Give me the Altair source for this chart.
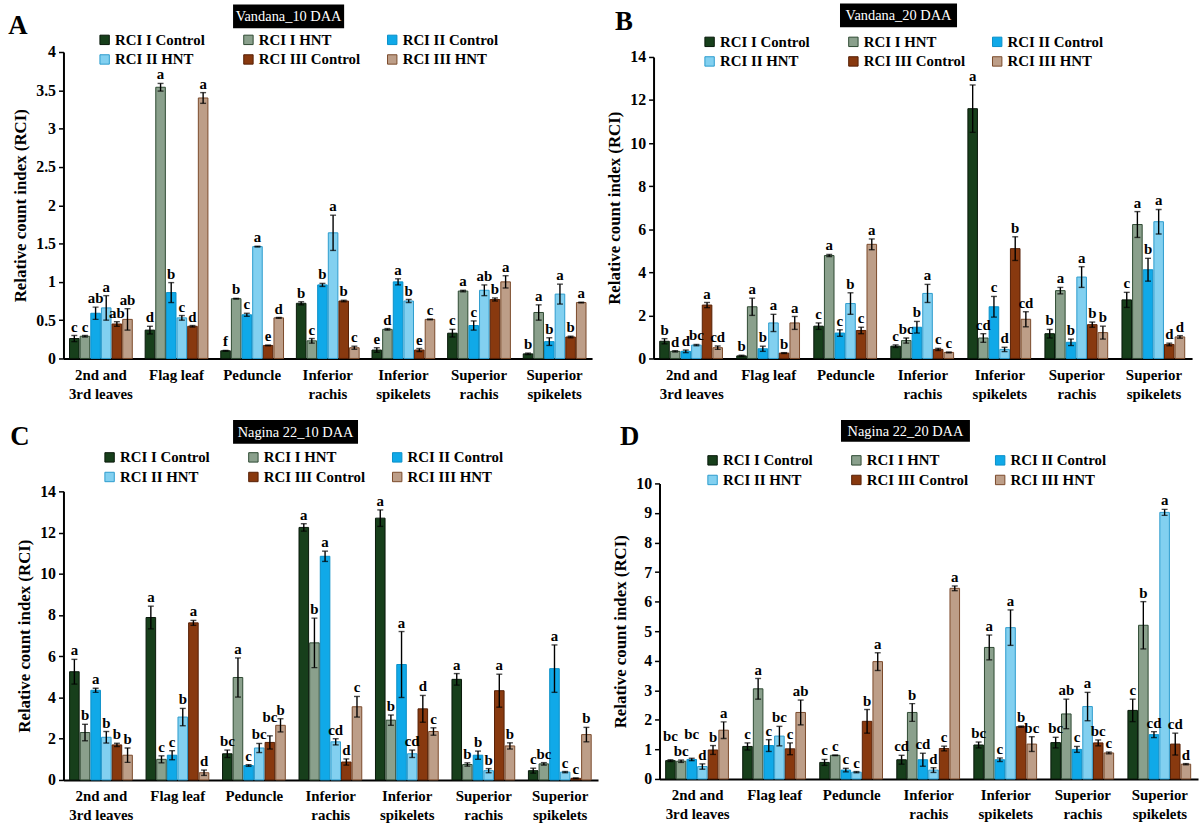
import altair as alt
import pandas as pd

FONT = "Liberation Serif"

CATEGORIES = ["2nd and\n3rd leaves", "Flag leaf", "Peduncle", "Inferior\nrachis",
              "Inferior\nspikelets", "Superior\nrachis", "Superior\nspikelets"]
SERIES = ["RCI I Control", "RCI I HNT", "RCI II Control",
          "RCI II HNT", "RCI III Control", "RCI III HNT"]
FILLS = ["#173f1b", "#8aa08c", "#10a9e8", "#82d0f0", "#88390f", "#bd9e88"]
EDGES = ["#08180a", "#2f4a33", "#0a90c8", "#2d9ccd", "#561f05", "#7a4a2b"]

# Vandana, 10 DAA  (rows = tissues, columns = series)
A_MEAN = [[0.26, 0.29, 0.59, 0.66, 0.45, 0.51],
          [0.37, 3.54, 0.86, 0.53, 0.42, 3.40],
          [0.10, 0.78, 0.57, 1.46, 0.17, 0.53],
          [0.72, 0.23, 0.96, 1.64, 0.75, 0.14],
          [0.11, 0.38, 1.00, 0.75, 0.11, 0.51],
          [0.33, 0.88, 0.43, 0.89, 0.77, 1.00],
          [0.06, 0.60, 0.22, 0.84, 0.28, 0.73]]
A_ERR = [[0.04, 0.01, 0.08, 0.16, 0.03, 0.14],
         [0.05, 0.05, 0.13, 0.03, 0.01, 0.07],
         [0.005, 0.005, 0.02, 0.005, 0.005, 0.005],
         [0.02, 0.03, 0.02, 0.23, 0.01, 0.02],
         [0.03, 0.01, 0.04, 0.02, 0.02, 0.005],
         [0.05, 0.01, 0.06, 0.07, 0.02, 0.08],
         [0.01, 0.10, 0.05, 0.13, 0.01, 0.005]]
A_SIG = [["c", "c", "ab", "a", "ab", "ab"],
         ["d", "a", "b", "c", "d", "a"],
         ["f", "b", "c", "a", "e", "d"],
         ["b", "c", "b", "a", "b", "c"],
         ["e", "d", "a", "b", "e", "c"],
         ["c", "a", "c", "ab", "b", "a"],
         ["b", "a", "b", "a", "b", "a"]]

# Vandana, 20 DAA
B_MEAN = [[0.80, 0.33, 0.33, 0.62, 2.48, 0.50],
          [0.12, 2.40, 0.45, 1.65, 0.25, 1.65],
          [1.50, 4.78, 1.18, 2.55, 1.30, 5.30],
          [0.57, 0.83, 1.45, 3.02, 0.42, 0.28],
          [11.60, 0.95, 2.40, 0.42, 5.10, 1.82],
          [1.15, 3.15, 0.75, 3.78, 1.57, 1.20],
          [2.72, 6.22, 4.12, 6.35, 0.65, 1.00]]
B_ERR = [[0.12, 0.03, 0.06, 0.03, 0.12, 0.08],
         [0.03, 0.40, 0.12, 0.40, 0.02, 0.30],
         [0.15, 0.05, 0.15, 0.50, 0.15, 0.25],
         [0.06, 0.12, 0.27, 0.42, 0.05, 0.02],
         [1.10, 0.20, 0.48, 0.10, 0.55, 0.35],
         [0.20, 0.15, 0.15, 0.48, 0.12, 0.30],
         [0.35, 0.60, 0.53, 0.57, 0.06, 0.06]]
B_SIG = [["b", "d", "d", "bc", "a", "cd"],
         ["b", "a", "b", "a", "b", "a"],
         ["c", "a", "c", "b", "c", "a"],
         ["c", "bc", "b", "a", "c", "c"],
         ["a", "cd", "c", "d", "b", "cd"],
         ["b", "a", "b", "a", "b", "b"],
         ["c", "a", "b", "a", "d", "d"]]

# Nagina 22, 10 DAA
C_MEAN = [[5.25, 2.30, 4.35, 2.07, 1.70, 1.20],
          [7.88, 1.00, 1.20, 3.05, 7.62, 0.35],
          [1.27, 4.97, 0.70, 1.55, 1.82, 2.65],
          [12.25, 6.65, 10.85, 1.85, 0.87, 3.55],
          [12.70, 2.90, 5.60, 1.27, 3.45, 2.35],
          [4.88, 0.75, 1.20, 0.45, 4.33, 1.65],
          [0.45, 0.78, 5.40, 0.38, 0.08, 2.20]]
C_ERR = [[0.60, 0.40, 0.10, 0.28, 0.08, 0.35],
         [0.55, 0.17, 0.22, 0.42, 0.12, 0.13],
         [0.18, 0.95, 0.04, 0.22, 0.32, 0.32],
         [0.18, 1.20, 0.25, 0.15, 0.15, 0.50],
         [0.40, 0.25, 1.60, 0.18, 0.65, 0.18],
         [0.28, 0.08, 0.20, 0.10, 0.80, 0.15],
         [0.12, 0.06, 1.15, 0.03, 0.02, 0.35]]
C_SIG = [["a", "b", "a", "b", "b", "b"],
         ["a", "c", "c", "b", "a", "d"],
         ["bc", "a", "c", "bc", "bc", "b"],
         ["a", "b", "a", "cd", "d", "c"],
         ["a", "b", "a", "cd", "d", "c"],
         ["a", "b", "b", "b", "a", "b"],
         ["c", "bc", "a", "c", "c", "b"]]

# Nagina 22, 20 DAA
D_MEAN = [[0.62, 0.60, 0.66, 0.42, 0.98, 1.65],
          [1.10, 3.05, 1.13, 1.45, 1.02, 2.25],
          [0.56, 0.80, 0.30, 0.23, 1.95, 3.97],
          [0.65, 2.25, 0.65, 0.30, 1.03, 6.45],
          [1.15, 4.45, 0.65, 5.12, 1.77, 1.18],
          [1.23, 2.20, 1.00, 2.45, 1.22, 0.88],
          [2.32, 5.20, 1.50, 9.02, 1.18, 0.50]]
D_ERR = [[0.03, 0.04, 0.04, 0.09, 0.15, 0.28],
         [0.12, 0.35, 0.20, 0.33, 0.20, 0.42],
         [0.10, 0.01, 0.06, 0.02, 0.40, 0.30],
         [0.15, 0.30, 0.22, 0.08, 0.08, 0.08],
         [0.10, 0.42, 0.06, 0.60, 0.02, 0.25],
         [0.18, 0.50, 0.10, 0.48, 0.10, 0.03],
         [0.38, 0.80, 0.10, 0.10, 0.37, 0.02]]
D_SIG = [["bc", "bc", "bc", "d", "b", "a"],
         ["c", "a", "c", "bc", "c", "ab"],
         ["c", "c", "c", "c", "b", "a"],
         ["cd", "b", "cd", "d", "c", "a"],
         ["bc", "a", "c", "a", "b", "bc"],
         ["bc", "ab", "c", "a", "bc", "c"],
         ["c", "b", "cd", "a", "cd", "d"]]

# extra lift (px) for letters that would collide with a neighbour
LETTER_LIFT = {("C", 2, 4): 10, ("D", 0, 0): 15, ("D", 0, 2): 15}


def frame(key, means, errs, sigs):
    rows = []
    for i, cat in enumerate(CATEGORIES):
        for j, s in enumerate(SERIES):
            m, e = means[i][j], errs[i][j]
            rows.append({"category": cat, "series": s, "mean": m,
                         "lo": max(0.0, m - e), "hi": m + e, "sig": sigs[i][j],
                         "lift": LETTER_LIFT.get((key, i, j), 0)})
    return pd.DataFrame(rows)


def panel(df, title, letter, ymax, step, width, height, top, box, letter_xy, legend_xy):
    ticks = [round(k * step, 3) for k in range(int(round(ymax / step)) + 1)]
    # letter anchor: top of the error bar, raised by the pixel lift converted to data units
    df = df.assign(label_y=df["hi"] + df["lift"] * ymax / (height - top))
    x = alt.X("category:N", sort=CATEGORIES, title=None,
              scale=alt.Scale(paddingInner=0.17, paddingOuter=0.08),
              axis=alt.Axis(labelExpr="split(datum.label, '\\n')", labelAngle=0,
                            ticks=False, domainColor="black", domainWidth=2,
                            labelFont=FONT, labelFontSize=15, labelFontWeight="bold",
                            labelColor="black", labelPadding=9, labelLineHeight=19))
    xo = alt.XOffset("series:N", sort=SERIES, scale=alt.Scale(paddingInner=0.1))

    def ych(field):
        return alt.Y(f"{field}:Q",
                     scale=alt.Scale(domain=[0, ymax], range=[height, top], nice=False),
                     title="Relative count index (RCI)",
                     axis=alt.Axis(values=ticks, format=".1~f", grid=False,
                                   domainColor="black", domainWidth=2,
                                   tickColor="black", tickWidth=1.5, tickSize=5,
                                   labelFont=FONT, labelFontSize=16, labelFontWeight="bold",
                                   labelColor="black", labelPadding=3,
                                   titleFont=FONT, titleFontSize=17, titleFontWeight="bold",
                                   titleColor="black", titlePadding=6))

    legend = alt.Legend(title=None, orient="none", legendX=legend_xy[0], legendY=legend_xy[1],
                        direction="horizontal", columns=3, symbolType="square", symbolSize=90,
                        symbolStrokeColor="#222222", symbolStrokeWidth=1,
                        labelFont=FONT, labelFontSize=15, labelFontWeight="bold",
                        labelColor="black", labelOffset=3, columnPadding=24,
                        rowPadding=4, gridAlign="all", padding=0)

    base = alt.Chart(df)
    bars = base.mark_bar(strokeWidth=1).encode(
        x=x, xOffset=xo, y=ych("mean"),
        color=alt.Color("series:N", sort=SERIES,
                        scale=alt.Scale(domain=SERIES, range=FILLS), legend=legend),
        stroke=alt.Stroke("series:N", scale=alt.Scale(domain=SERIES, range=EDGES),
                          legend=None))
    whisk = base.mark_rule(color="black", strokeWidth=1.4).encode(
        x=x, xOffset=xo, y=ych("lo"), y2="hi:Q")
    cap_hi = base.mark_tick(color="black", thickness=1.4, size=6).encode(
        x=x, xOffset=xo, y=ych("hi"))
    cap_lo = base.mark_tick(color="black", thickness=1.4, size=6).encode(
        x=x, xOffset=xo, y=ych("lo"))
    letters = base.mark_text(baseline="bottom", dy=-1, font=FONT, fontSize=15,
                             fontWeight="bold", color="black").encode(
        x=x, xOffset=xo, y=ych("label_y"), text="sig:N")

    label_df = pd.DataFrame({"title": [title], "letter": [letter]})
    head = alt.Chart(label_df)
    box_rect = head.mark_rect(color="black").encode(
        x=alt.value(box[0]), x2=alt.value(box[1]), y=alt.value(box[2]), y2=alt.value(box[3]))
    box_text = head.mark_text(color="white", font=FONT, fontSize=14.5, baseline="middle").encode(
        text="title:N", x=alt.value((box[0] + box[1]) / 2), y=alt.value((box[2] + box[3]) / 2 + 1))
    tag = head.mark_text(color="black", font=FONT, fontSize=27, fontWeight="bold",
                         baseline="middle").encode(
        text="letter:N", x=alt.value(letter_xy[0]), y=alt.value(letter_xy[1]))

    return alt.layer(bars, whisk, cap_hi, cap_lo, letters, box_rect, box_text, tag).properties(
        width=width, height=height)


pa = panel(frame("A", A_MEAN, A_ERR, A_SIG), "Vandana_10 DAA", "A", 4, 0.5, 533, 309, 0,
           (171, 283, -48, -24), (-46, -26), (34, -20))
pb = panel(frame("B", B_MEAN, B_ERR, B_SIG), "Vandana_20 DAA", "B", 14, 2, 543, 309, 5,
           (188, 306, -49, -25), (-30, -30), (49, -18))
pc = panel(frame("C", C_MEAN, C_ERR, C_SIG), "Nagina 22_10 DAA", "C", 14, 2, 539, 299, 8,
           (171, 297, -64, -40), (-44, -47), (39, -34))
pd_ = panel(frame("D", D_MEAN, D_ERR, D_SIG), "Nagina 22_20 DAA", "D", 10, 1, 543, 298, 0,
            (183, 313, -64, -42), (-30, -47), (46, -31))


def row(left, right):
    return alt.hconcat(left, right, spacing=14).resolve_scale(
        x="independent", y="independent", color="independent", stroke="independent"
    ).resolve_legend(color="independent")


chart = alt.vconcat(row(pa, pb), row(pc, pd_), spacing=19).resolve_scale(
    x="independent", y="independent", color="independent", stroke="independent"
).resolve_legend(color="independent").configure_view(stroke=None).properties(
    padding={"left": 8, "top": 0, "right": 2, "bottom": 2}, background="white")

chart.save("out.html", embed_options={"renderer": "svg", "actions": False})
